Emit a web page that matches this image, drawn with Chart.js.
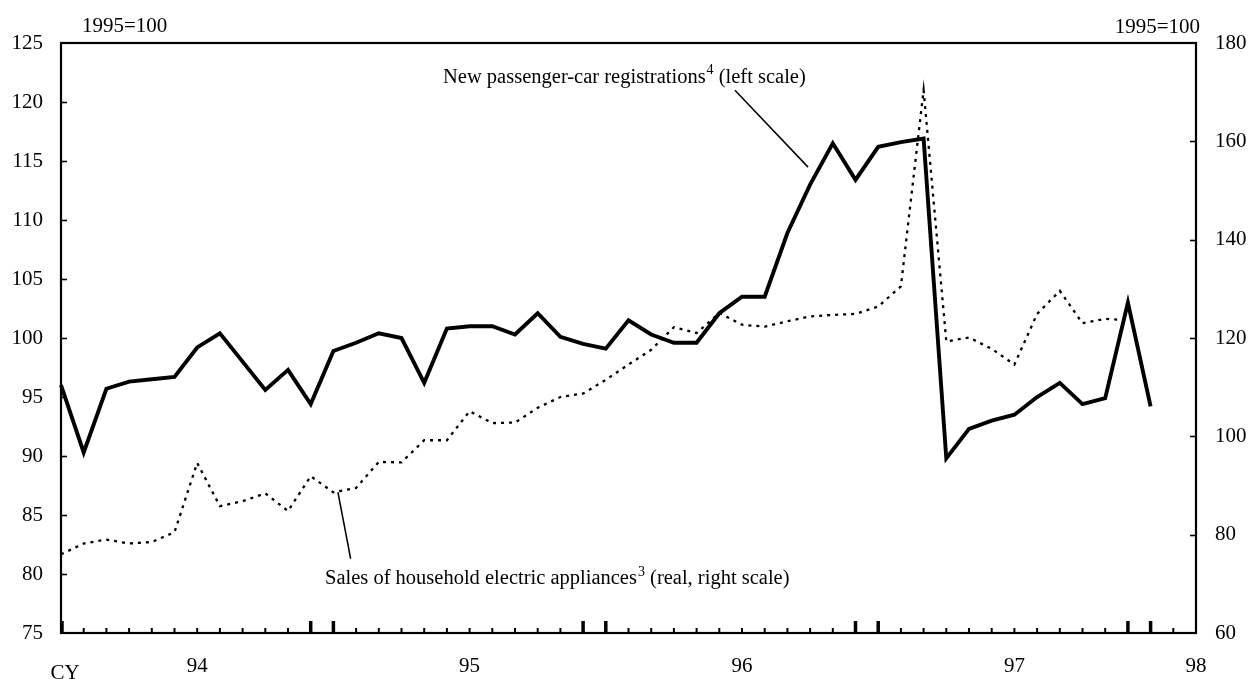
<!DOCTYPE html>
<html>
<head>
<meta charset="utf-8">
<script src="https://cdn.jsdelivr.net/npm/chart.js@4.4.1/dist/chart.umd.min.js"></script>
<style>
html,body{margin:0;padding:0;background:#fff;}
#c{display:block;}
</style>
</head>
<body>
<canvas id="c" width="1251" height="679"></canvas>
<script>
// ---- data ----
const months = [
 '1994-01','1994-02','1994-03','1994-04','1994-05','1994-06','1994-07','1994-08','1994-09','1994-10','1994-11','1994-12',
 '1995-01','1995-02','1995-03','1995-04','1995-05','1995-06','1995-07','1995-08','1995-09','1995-10','1995-11','1995-12',
 '1996-01','1996-02','1996-03','1996-04','1996-05','1996-06','1996-07','1996-08','1996-09','1996-10','1996-11','1996-12',
 '1997-01','1997-02','1997-03','1997-04','1997-05','1997-06','1997-07','1997-08','1997-09','1997-10','1997-11','1997-12',
 '1998-01','1998-02','1998-03'
];
// New passenger-car registrations (left scale, 1995=100)
const carRegistrations = [
 96.0, 90.3, 95.7, 96.3, 96.5, 96.7, 99.2, 100.4, 98.0, 95.6, 97.3, 94.4,
 98.9, 99.6, 100.4, 100.0, 96.2, 100.8, 101.0, 101.0, 100.3, 102.1, 100.1, 99.5,
 99.1, 101.5, 100.3, 99.6, 99.6, 102.1, 103.5, 103.5, 108.9, 113.0, 116.5, 113.4,
 116.2, 116.6, 116.9, 89.8, 92.3, 93.0, 93.5, 95.0, 96.2, 94.4, 94.9, 103.0,
 94.2
];
// Sales of household electric appliances (real, right scale, 1995=100)
const applianceSales = [
 76.0, 78.2, 79.0, 78.2, 78.5, 80.5, 94.6, 85.8, 86.8, 88.4, 84.8, 91.9,
 88.6, 89.5, 94.8, 94.7, 99.2, 99.2, 105.1, 102.7, 102.8, 105.8, 108.0, 108.7,
 111.5, 114.6, 117.6, 122.2, 121.0, 125.1, 122.7, 122.3, 123.4, 124.4, 124.7, 124.9,
 126.4, 130.5, 170.4, 119.3, 120.1, 117.8, 114.6, 124.9, 129.6, 123.0, 123.9, 123.6
];
const yearLabelIdx = [6, 18, 30, 42, 50];
const yearLabels = ['94', '95', '96', '97', '98'];
const majorTickIdx = [0, 11, 12, 23, 24, 35, 36, 47, 48];
const leftTicks = [75, 80, 85, 90, 95, 100, 105, 110, 115, 120, 125];
const rightTicks = [60, 80, 100, 120, 140, 160, 180];
const baseLabel = '1995=100';
const carLabel = ['New passenger-car registrations', '4', ' (left scale)'];
const salesLabel = ['Sales of household electric appliances', '3', ' (real, right scale)'];
const cyLabel = 'CY';

const FONT = '"Liberation Serif", "Times New Roman", serif';

function drawSup(ctx, x, y, parts, size) {
  ctx.font = size + 'px ' + FONT;
  ctx.textAlign = 'left';
  ctx.textBaseline = 'alphabetic';
  ctx.fillText(parts[0], x, y);
  x += ctx.measureText(parts[0]).width;
  ctx.font = Math.round(size * 0.66) + 'px ' + FONT;
  ctx.fillText(parts[1], x + 1, y - size * 0.42);
  x += ctx.measureText(parts[1]).width + 1;
  ctx.font = size + 'px ' + FONT;
  ctx.fillText(parts[2], x, y);
}

const decor = {
  id: 'decor',
  afterDraw(chart) {
    const ctx = chart.ctx;
    const a = chart.chartArea;
    const xs = chart.scales.x, yl = chart.scales.yL, yr = chart.scales.yR;
    ctx.save();
    ctx.strokeStyle = '#000';
    ctx.fillStyle = '#000';
    // left / right ticks (inward)
    ctx.lineWidth = 1.6;
    leftTicks.slice(1, -1).forEach(v => {
      const y = Math.round(yl.getPixelForValue(v)) + 0.5;
      ctx.beginPath(); ctx.moveTo(a.left, y); ctx.lineTo(a.left + 6, y); ctx.stroke();
    });
    rightTicks.slice(1, -1).forEach(v => {
      const y = Math.round(yr.getPixelForValue(v)) + 0.5;
      ctx.beginPath(); ctx.moveTo(a.right - 6, y); ctx.lineTo(a.right, y); ctx.stroke();
    });
    // x ticks
    for (let i = 1; i < months.length - 1; i++) {
      const x = xs.getPixelForValue(i);
      ctx.lineWidth = 2;
      ctx.beginPath(); ctx.moveTo(x, a.bottom); ctx.lineTo(x, a.bottom - 5); ctx.stroke();
    }
    majorTickIdx.forEach(i => {
      const x = xs.getPixelForValue(i) + (i === 0 ? 1 : 0);
      ctx.lineWidth = 3.5;
      ctx.beginPath(); ctx.moveTo(x, a.bottom); ctx.lineTo(x, a.bottom - 12); ctx.stroke();
    });
    // frame
    ctx.lineWidth = 2.2;
    ctx.strokeRect(a.left, a.top, a.right - a.left, a.bottom - a.top);

    // base labels
    ctx.font = '21px ' + FONT;
    ctx.textBaseline = 'alphabetic';
    ctx.textAlign = 'left';
    ctx.fillText(baseLabel, a.left + 21, 32);
    ctx.textAlign = 'right';
    ctx.fillText(baseLabel, a.right + 4, 33);
    // CY
    ctx.textAlign = 'center';
    ctx.textBaseline = 'middle';
    ctx.fillText(cyLabel, a.left + 4, 673);

    // annotations
    drawSup(ctx, xs.getPixelForValue(16.83), yl.getPixelForValue(121.63), carLabel, 20.5);
    drawSup(ctx, xs.getPixelForValue(11.63), yr.getPixelForValue(69.9), salesLabel, 20.5);
    ctx.lineWidth = 1.5;
    ctx.beginPath();
    ctx.moveTo(xs.getPixelForValue(29.69), yl.getPixelForValue(121.0));
    ctx.lineTo(xs.getPixelForValue(32.91), yl.getPixelForValue(114.48));
    ctx.stroke();
    ctx.beginPath();
    ctx.moveTo(xs.getPixelForValue(12.2), yr.getPixelForValue(88.63));
    ctx.lineTo(xs.getPixelForValue(12.76), yr.getPixelForValue(75.1));
    ctx.stroke();
    ctx.restore();
  }
};

new Chart(document.getElementById('c'), {
  type: 'line',
  data: {
    labels: months,
    datasets: [
      {
        label: 'New passenger-car registrations',
        data: carRegistrations,
        yAxisID: 'yL',
        borderColor: '#000',
        borderWidth: 3.9,
        pointRadius: 0,
        tension: 0,
        fill: false,
        borderJoinStyle: 'miter'
      },
      {
        label: 'Sales of household electric appliances',
        data: applianceSales,
        yAxisID: 'yR',
        borderColor: '#000',
        borderWidth: 2.3,
        borderDash: [3, 5],
        pointRadius: 0,
        tension: 0,
        fill: false
      }
    ]
  },
  options: {
    responsive: false,
    animation: false,
    layout: { padding: { top: 43, left: 0, right: 0, bottom: 0 } },
    plugins: { legend: { display: false }, tooltip: { enabled: false } },
    scales: {
      x: {
        type: 'category',
        offset: false,
        grid: { display: false, drawTicks: false },
        border: { display: false },
        ticks: {
          autoSkip: false, maxRotation: 0, minRotation: 0,
          padding: 21,
          color: '#000',
          font: { family: FONT, size: 21 },
          callback: (v, i) => { const k = yearLabelIdx.indexOf(i); return k >= 0 ? yearLabels[k] : ''; }
        },
        afterFit: s => { s.height = 46; }
      },
      yL: {
        position: 'left',
        min: 75, max: 125,
        grid: { display: false, drawTicks: false },
        border: { display: false },
        afterBuildTicks: s => { s.ticks = leftTicks.map(v => ({ value: v })); },
        ticks: { padding: 18, color: '#000', font: { family: FONT, size: 21 } },
        afterFit: s => { s.width = 61; }
      },
      yR: {
        position: 'right',
        min: 60, max: 180,
        grid: { display: false, drawTicks: false },
        border: { display: false },
        afterBuildTicks: s => { s.ticks = rightTicks.map(v => ({ value: v })); },
        ticks: { padding: 19, color: '#000', font: { family: FONT, size: 21 } },
        afterFit: s => { s.width = 55; }
      }
    }
  },
  plugins: [decor]
});
</script>
</body>
</html>
